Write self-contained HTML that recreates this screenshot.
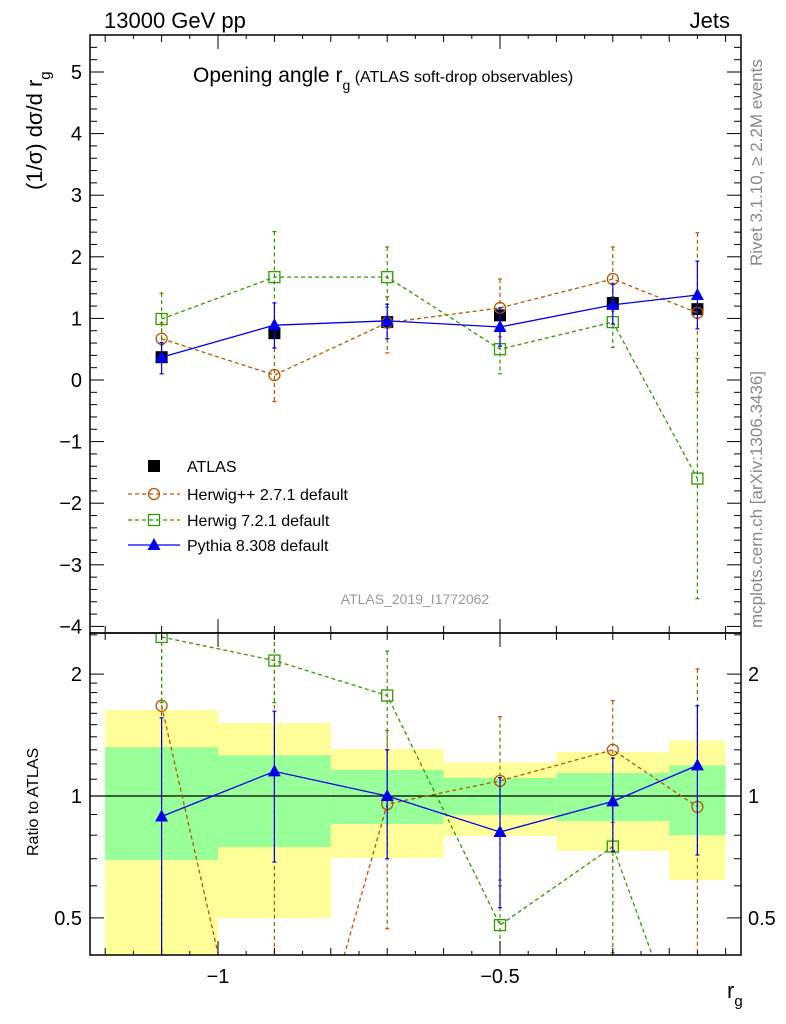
<!DOCTYPE html>
<html><head><meta charset="utf-8"><style>
html,body{margin:0;background:#fff;overflow:hidden;width:786px;height:1024px;}
svg{display:block;font-family:"Liberation Sans",sans-serif;}
</style></head><body>
<svg id="c" width="786" height="1024" viewBox="0 0 786 1024"></svg>
<script>
var binEdges=[-1.2,-1.0,-0.8,-0.6,-0.4,-0.2,-0.1];
var xCenters=[-1.1,-0.9,-0.7,-0.5,-0.3,-0.15];
var atlasVals=[0.37,0.76,0.94,1.05,1.25,1.15];
var atlasErr=[0.05,0.08,0.06,0.06,0.06,0.06];
var hppVals=[0.67,0.08,0.93,1.17,1.64,1.09];
var hppHi=[0.93,0.52,1.35,1.64,2.16,2.39];
var hppLo=[0.4,-0.35,0.44,0.7,1.12,-0.2];
var h7Vals=[0.99,1.67,1.67,0.5,0.94,-1.6];
var h7Hi=[1.41,2.41,2.16,0.9,1.35,0.35];
var h7Lo=[0.57,0.93,1.18,0.1,0.53,-3.55];
var pyVals=[0.37,0.89,0.96,0.86,1.22,1.38];
var pyHi=[0.61,1.25,1.23,1.17,1.56,1.93];
var pyLo=[0.1,0.52,0.67,0.55,0.91,0.83];
var yellowHi=[1.63,1.515,1.306,1.21,1.284,1.37];
var yellowLo=[0.3,0.5,0.703,0.797,0.732,0.62];
var greenHi=[1.32,1.26,1.16,1.108,1.14,1.19];
var greenLo=[0.695,0.748,0.853,0.898,0.867,0.8];
var rHpp=[1.67,0.1,0.955,1.09,1.30,0.94];
var rHppHi=[2.6,2.6,1.45,1.57,1.72,2.06];
var rHppLo=[0.3,0.05,0.47,0.62,0.86,0.3];
var rH7=[2.47,2.16,1.77,0.48,0.75,0.2];
var rH7Hi=[2.6,2.6,2.28,0.6,1.0,0.3];
var rH7Lo=[1.7,1.7,1.3,0.3,0.41,0.1];
var rPy=[0.89,1.15,1.0,0.815,0.97,1.19];
var rPyHi=[1.56,1.62,1.3,1.11,1.24,1.67];
var rPyLo=[0.3,0.687,0.70,0.53,0.73,0.715];
var mainTicks=[-4,-3,-2,-1,0,1,2,3,4,5];
var xTickLabels=[-1,-0.5];
var ratioTicks=[0.5,1,2];

var PL=90,PR=741,PT=35,PM=633,PB=955;
function X(v){return 500+(v+0.5)*564;}
function Y(v){return 380-v*61.6;}
function RY(v){return 796-Math.log(v)/Math.LN10*405;}
var svgRoot=document.getElementById('c');
var NS='http://www.w3.org/2000/svg';
function mk(tag,a,parent){var e=document.createElementNS(NS,tag);for(var k in a){e.setAttribute(k,String(a[k]));}(parent||svgRoot).appendChild(e);return e;}
function txt(s,x,y,a,name,parent){var o={x:x,y:y};for(var k in a)o[k]=a[k];var e=mk('text',o,parent);e.textContent=s;return e;}
function sub(t,main,subs,rest,subSize,restSize){
  t.textContent='';
  var a=document.createElementNS(NS,'tspan');a.textContent=main;t.appendChild(a);
  var b=document.createElementNS(NS,'tspan');b.setAttribute('dy','8');b.setAttribute('font-size',subSize);b.textContent=subs;t.appendChild(b);
  if(rest){var c=document.createElementNS(NS,'tspan');c.setAttribute('dy','-8');c.setAttribute('font-size',restSize);c.textContent=rest;t.appendChild(c);}
}

var defs=mk('defs',{});
var c1=mk('clipPath',{id:'cm'},defs);mk('rect',{x:PL,y:PT,width:PR-PL,height:PM-PT},c1);
var c2=mk('clipPath',{id:'cr'},defs);mk('rect',{x:PL,y:PM,width:PR-PL,height:PB-PM},c2);
var gm=mk('g',{'clip-path':'url(#cm)'});


var gr=mk('g',{'clip-path':'url(#cr)'});



for(var i=0;i<6;i++){
 var x0=X(binEdges[i]),x1=X(binEdges[i+1]);
 var r1=mk('rect',{x:x0,y:RY(yellowHi[i]),width:x1-x0,height:RY(yellowLo[i])-RY(yellowHi[i]),fill:'#ffff99'},gr);
 
 
 var r2=mk('rect',{x:x0,y:RY(greenHi[i]),width:x1-x0,height:RY(greenLo[i])-RY(greenHi[i]),fill:'#99ff99'},gr);
 
 
}
var unity=mk('line',{x1:PL,x2:PR,y1:RY(1),y2:RY(1),stroke:'#000','stroke-width':1.2},gr);



function marker(g,type,x,y,col){
 var e;
 if(type==='sq') e=mk('rect',{x:x-6,y:y-6,width:12,height:12,fill:'#000'},g);
 else if(type==='osq') e=mk('rect',{x:x-5.5,y:y-5.5,width:11,height:11,fill:'none',stroke:col,'stroke-width':1.3},g);
 else if(type==='oc') e=mk('circle',{cx:x,cy:y,r:5.5,fill:'none',stroke:col,'stroke-width':1.3},g);
 else e=mk('path',{d:'M'+x+','+(y-7)+'L'+(x+6.5)+','+(y+5)+'L'+(x-6.5)+','+(y+5)+'Z',fill:col},g);
 
 
}
function series(g,name,vals,hi,lo,fx,fy,col,dash,type,line){
 var sg=mk('g',{},g);
 
 
 if(line){
  var pts=[];for(var j=0;j<vals.length;j++)pts.push(fx(xCenters[j])+','+fy(vals[j]));
  var pl=mk('polyline',{points:pts.join(' '),fill:'none',stroke:col,'stroke-width':1.3,'stroke-dasharray':dash||'none'},sg);
  
  
 }
 for(var k=0;k<vals.length;k++){
  var x=fx(xCenters[k]);
  var eb=mk('line',{x1:x,x2:x,y1:fy(hi[k]),y2:fy(lo[k]),stroke:col,'stroke-width':1.2,'stroke-dasharray':dash||'none'},sg);
  
  
  var ends=[hi[k],lo[k]];
  for(var m=0;m<2;m++){
   var cp=mk('line',{x1:x-2,x2:x+2,y1:fy(ends[m]),y2:fy(ends[m]),stroke:col,'stroke-width':1.2},sg);
   
   
  }
  marker(sg,type,x,fy(vals[k]),col);
 }
}
var atlasHi=[],atlasLo=[];
for(var q=0;q<atlasVals.length;q++){atlasHi.push(atlasVals[q]+atlasErr[q]);atlasLo.push(atlasVals[q]-atlasErr[q]);}
series(gm,'atlas-data',atlasVals,atlasHi,atlasLo,X,Y,'#000',null,'sq',false);
series(gm,'herwigpp-series',hppVals,hppHi,hppLo,X,Y,'#b35900','4,3','oc',true);
series(gm,'herwig7-series',h7Vals,h7Hi,h7Lo,X,Y,'#339900','4,3','osq',true);
series(gm,'pythia-series',pyVals,pyHi,pyLo,X,Y,'#0000ee',null,'tri',true);
series(gr,'herwigpp-ratio',rHpp,rHppHi,rHppLo,X,RY,'#b35900','4,3','oc',true);
series(gr,'herwig7-ratio',rH7,rH7Hi,rH7Lo,X,RY,'#339900','4,3','osq',true);
series(gr,'pythia-ratio',rPy,rPyHi,rPyLo,X,RY,'#0000ee',null,'tri',true);

var f1=mk('rect',{x:PL,y:PT,width:PR-PL,height:PM-PT,fill:'none',stroke:'#000','stroke-width':1.5});


var f2=mk('rect',{x:PL,y:PM,width:PR-PL,height:PB-PM,fill:'none',stroke:'#000','stroke-width':1.5});



var tg=mk('g',{stroke:'#000','stroke-width':1});


function tick(a,b,c,d){mk('line',{x1:a,y1:b,x2:c,y2:d},tg);}
for(var k1=-12;k1<=-1;k1++){var xv=X(k1/10);if(xv<PL||xv>PR)continue;var len=(k1===-10||k1===-5)?14:7;
 tick(xv,PT,xv,PT+len);tick(xv,PM,xv,PM-len);tick(xv,PM,xv,PM+len);tick(xv,PB,xv,PB-len);}
for(var k2=-25;k2<=-1;k2+=2){var xw=X(k2/20);if(xw<PL||xw>PR)continue;tick(xw,PT,xw,PT+4);tick(xw,PB,xw,PB-4);}
for(var a1=0;a1<xTickLabels.length;a1++){var v1=xTickLabels[a1];txt(v1===-1?'−1':'−0.5',X(v1),983,{'font-size':20,'text-anchor':'middle'},'x-tick-label');}
for(var k3=-20;k3<=27;k3++){var yv=Y(k3/5);if(yv<PT||yv>PM)continue;var l2=(k3%5===0)?14:7;tick(PL,yv,PL+l2,yv);tick(PR,yv,PR-l2,yv);}
for(var a2=0;a2<mainTicks.length;a2++){var v2=mainTicks[a2];txt(v2<0?'−'+(-v2):String(v2),82,Y(v2)+7,{'font-size':20,'text-anchor':'end'},'y-tick-label');}
var rt=[0.4,0.5,0.6,0.7,0.8,0.9,1,1.1,1.2,1.3,1.4,1.5,1.6,1.7,1.8,1.9,2,2.5];
for(var a3=0;a3<rt.length;a3++){var yr=RY(rt[a3]);if(yr<PM||yr>PB)continue;var l3=(rt[a3]===0.5||rt[a3]===1||rt[a3]===2)?14:7;tick(PL,yr,PL+l3,yr);tick(PR,yr,PR-l3,yr);}
for(var a4=0;a4<ratioTicks.length;a4++){var v4=ratioTicks[a4];
 txt(String(v4),82,RY(v4)+7,{'font-size':20,'text-anchor':'end'},'ratio-tick-label');
 txt(String(v4),748,RY(v4)+7,{'font-size':20,'text-anchor':'start'},'ratio-tick-label-right');}

txt('13000 GeV pp',104,28,{'font-size':22},'energy-label');
txt('Jets',730,28,{'font-size':22,'text-anchor':'end'},'process-label');
var tt=txt('Opening angle r',193,82,{'font-size':21},'plot-title');
sub(tt,'Opening angle r','g',' (ATLAS soft-drop observables)','14','16');
txt('ATLAS_2019_I1772062',415,604,{'font-size':14,fill:'#999','text-anchor':'middle'},'analysis-id');
var yl=txt('(1/σ) dσ/d r',0,0,{'font-size':22,transform:'translate(42,190) rotate(-90)'},'y-axis-title');
sub(yl,'(1/σ) dσ/d r','g','','15','15');
txt('Ratio to ATLAS',0,0,{'font-size':16,transform:'translate(38,856) rotate(-90)'},'ratio-axis-title');
var xl=txt('r',727,998,{'font-size':22},'x-axis-title');
sub(xl,'r','g','','15','15');
txt('Rivet 3.1.10, ≥ 2.2M events',0,0,{'font-size':17,fill:'#888',transform:'translate(762,266) rotate(-90)'},'rivet-label');
txt('mcplots.cern.ch [arXiv:1306.3436]',0,0,{'font-size':17,fill:'#888',transform:'translate(762,628) rotate(-90)'},'mcplots-label');

var lg=mk('g',{});


var entries=[['ATLAS','#000',null,'sq',false],['Herwig++ 2.7.1 default','#b35900','4,3','oc',true],['Herwig 7.2.1 default','#339900','4,3','osq',true],['Pythia 8.308 default','#0000ee',null,'tri',true]];
var ly=[466,494,520,545];
for(var n=0;n<entries.length;n++){
 var en=entries[n];
 var g=mk('g',{},lg);
 
 
 if(en[4])mk('line',{x1:128,x2:180,y1:ly[n],y2:ly[n],stroke:en[1],'stroke-width':1.3,'stroke-dasharray':en[2]||'none'},g);
 marker(g,en[3],154,ly[n],en[1]);
 txt(en[0],187,ly[n]+6,{'font-size':16},'legend-label',g);
}
</script>
</body></html>
